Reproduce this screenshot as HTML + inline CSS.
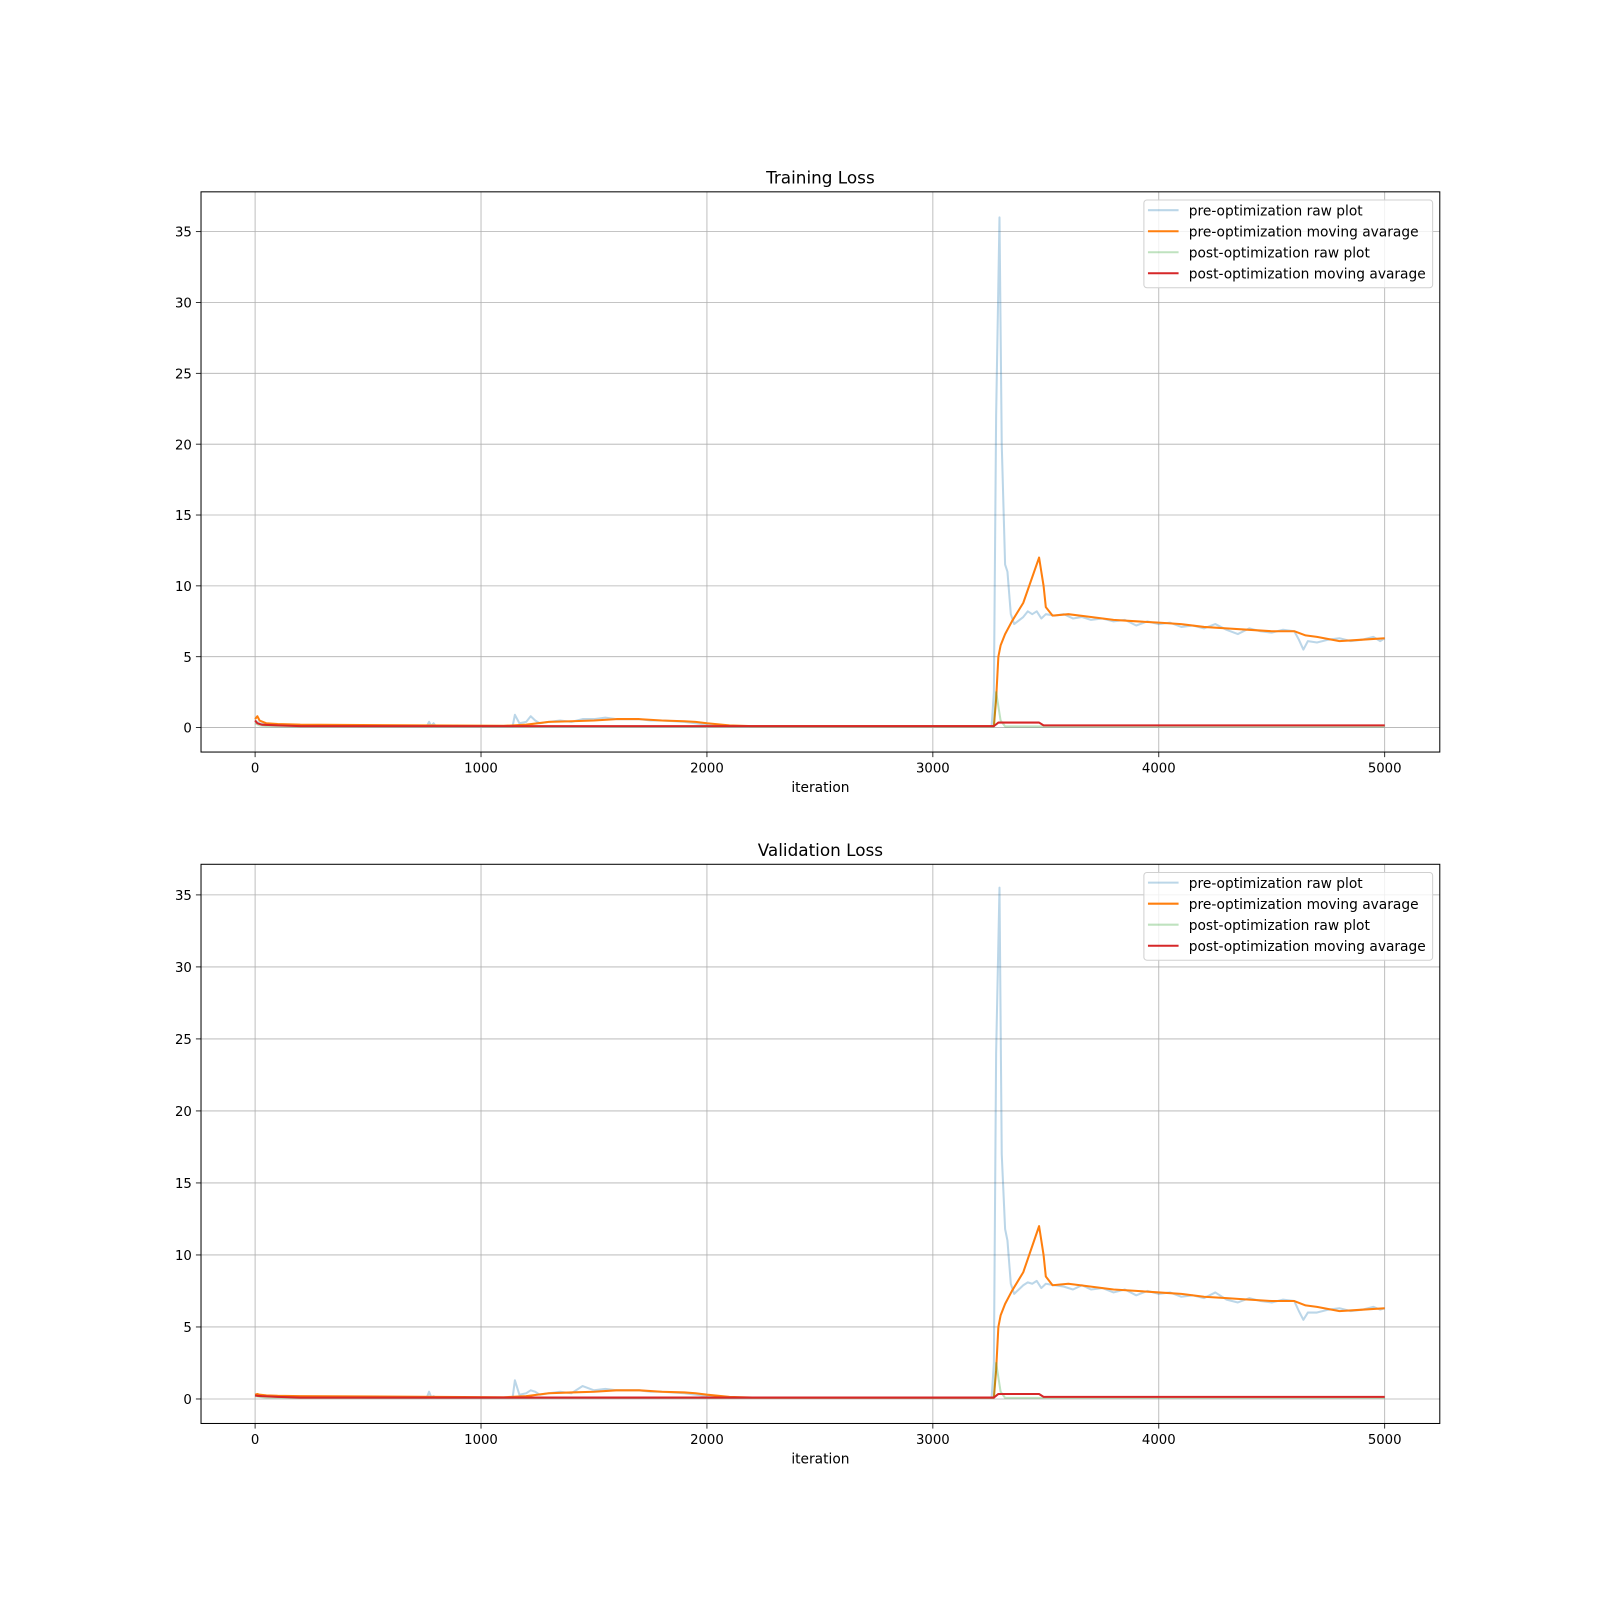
<!DOCTYPE html>
<html><head><meta charset="utf-8"><style>
body{margin:0;background:#fff;}
svg{display:block;font-family:"DejaVu Sans","Liberation Sans",sans-serif;}
</style></head><body>
<svg id="fig" width="1600" height="1600" viewBox="0 0 1568 1568"></svg>
<script>
// ---- data (iteration, value) ----
const rawPreX = [0,20,50,100,200,300,400,500,600,700,760,770,780,790,800,900,1000,1100,1140,1150,1170,1200,1220,1240,1260,1300,1350,1400,1450,1500,1550,1600,1650,1700,1750,1800,1900,2000,2100,2500,3000,3260,3270,3280,3295,3305,3320,3330,3345,3360,3400,3420,3440,3460,3480,3500,3540,3580,3620,3660,3700,3750,3800,3850,3900,3950,4000,4050,4100,4150,4200,4250,4300,4350,4400,4450,4500,4550,4600,4620,4640,4660,4700,4750,4800,4850,4900,4950,4980,5000];
const rawPreTrain = [0.5,0.3,0.2,0.15,0.12,0.12,0.12,0.1,0.1,0.1,0.1,0.4,0.1,0.3,0.1,0.1,0.1,0.1,0.1,0.9,0.3,0.4,0.8,0.5,0.3,0.4,0.5,0.4,0.6,0.6,0.7,0.6,0.6,0.6,0.5,0.5,0.4,0.2,0.1,0.1,0.1,0.1,2.5,22,36,20,11.5,11,8,7.3,7.8,8.2,8.0,8.2,7.7,8.0,7.9,8.0,7.7,7.8,7.6,7.7,7.5,7.6,7.2,7.5,7.3,7.4,7.1,7.2,7.0,7.3,6.9,6.6,7.0,6.8,6.7,6.9,6.8,6.2,5.5,6.1,6.0,6.2,6.3,6.1,6.2,6.4,6.1,6.3];
const rawPreVal = [0.3,0.2,0.2,0.15,0.12,0.12,0.12,0.1,0.1,0.1,0.1,0.5,0.1,0.2,0.1,0.1,0.1,0.1,0.1,1.3,0.3,0.4,0.6,0.5,0.3,0.4,0.5,0.4,0.9,0.6,0.7,0.6,0.6,0.6,0.5,0.5,0.4,0.2,0.1,0.1,0.1,0.1,2.5,24,35.5,17,11.8,11,8,7.3,7.9,8.1,8.0,8.2,7.7,8.0,7.9,7.8,7.6,7.9,7.6,7.7,7.4,7.6,7.2,7.5,7.3,7.4,7.1,7.2,7.0,7.4,6.9,6.7,7.0,6.8,6.7,6.9,6.8,6.1,5.5,6.0,6.0,6.2,6.3,6.1,6.2,6.4,6.2,6.3];
const maPreX = [0,10,20,50,100,200,1100,1200,1300,1400,1500,1600,1700,1800,1900,1950,2000,2100,2200,3270,3280,3290,3300,3320,3350,3400,3470,3480,3490,3500,3530,3600,3700,3800,3900,4000,4100,4200,4300,4400,4500,4600,4650,4700,4800,4900,5000];
const maPreTrain = [0.6,0.8,0.5,0.3,0.25,0.2,0.12,0.2,0.4,0.45,0.5,0.6,0.6,0.5,0.45,0.4,0.3,0.15,0.1,0.1,2,5,5.8,6.6,7.5,8.8,12,11,10,8.5,7.9,8.0,7.8,7.6,7.5,7.4,7.3,7.1,7.0,6.9,6.8,6.8,6.5,6.4,6.1,6.2,6.3];
const maPreVal = [0.3,0.35,0.3,0.25,0.22,0.2,0.12,0.2,0.4,0.45,0.5,0.6,0.6,0.5,0.45,0.4,0.3,0.15,0.1,0.1,2,5,5.8,6.6,7.5,8.8,12,11,10,8.5,7.9,8.0,7.8,7.6,7.5,7.4,7.3,7.1,7.0,6.9,6.8,6.8,6.5,6.4,6.1,6.2,6.3];
const rawPostX = [0,20,50,200,3270,3280,3300,3320,5000];
const rawPostTrain = [0.3,0.15,0.1,0.08,0.08,2.5,0.5,0.08,0.08];
const rawPostVal = [0.2,0.15,0.1,0.08,0.08,2.5,0.5,0.08,0.08];
const maPostX = [0,10,30,100,200,3270,3290,3470,3490,5000];
const maPostTrain = [0.5,0.3,0.2,0.15,0.1,0.1,0.35,0.35,0.15,0.15];
const maPostVal = [0.25,0.22,0.2,0.15,0.1,0.1,0.35,0.35,0.15,0.15];
const xTicks = [0,1000,2000,3000,4000,5000];
const yTicks = [0,5,10,15,20,25,30,35];
const legendLabels = ["pre-optimization raw plot","pre-optimization moving avarage","post-optimization raw plot","post-optimization moving avarage"];

const NS="http://www.w3.org/2000/svg";
const svg=document.getElementById('fig');
function mk(tag,attrs,parent){const e=document.createElementNS(NS,tag);for(const k in attrs)e.setAttribute(k,attrs[k]);(parent||svg).appendChild(e);return e;}

function panel(name,title,top,bottom,yZero,y35,series){
  const L=197,R=1411;
  const g=mk('g',{});
  
  
  const xs=i=>250+i*(1357-250)/5000;
  const ys=v=>yZero+v*(y35-yZero)/35;
  xTicks.forEach(t=>{
    const l=mk('line',{x1:xs(t),x2:xs(t),y1:top,y2:bottom,stroke:'#b0b0b0','stroke-width':0.8},g);
    
    mk('line',{x1:xs(t),x2:xs(t),y1:bottom,y2:bottom+5,stroke:'#000','stroke-width':0.8},g);
    const tx=mk('text',{x:xs(t),y:bottom+20,'text-anchor':'middle','font-size':13},g);tx.textContent=t;
    
  });
  yTicks.forEach(t=>{
    const l=mk('line',{x1:L,x2:R,y1:ys(t),y2:ys(t),stroke:'#b0b0b0','stroke-width':0.8},g);
    
    mk('line',{x1:L-5,x2:L,y1:ys(t),y2:ys(t),stroke:'#000','stroke-width':0.8},g);
    const tx=mk('text',{x:L-9,y:ys(t)+5,'text-anchor':'end','font-size':13},g);tx.textContent=t;
    
  });
  const cp=mk('clipPath',{id:'c'+name},g);mk('rect',{x:L,y:top,width:R-L,height:bottom-top},cp);
  series.forEach(s=>{
    const d=s.x.map((v,i)=>(i?'L':'M')+xs(v).toFixed(1)+','+ys(s.y[i]).toFixed(1)).join('');
    const p=mk('path',{d:d,fill:'none',stroke:s.c,'stroke-width':s.w,'stroke-opacity':s.o,'clip-path':'url(#c'+name+')','stroke-linejoin':'round'},g);
    
  });
  const fr=mk('rect',{x:L,y:top,width:R-L,height:bottom-top,fill:'none',stroke:'#000','stroke-width':1},g);
  
  const tt=mk('text',{x:(L+R)/2,y:top-8,'text-anchor':'middle','font-size':16.5},g);tt.textContent=title;
  
  const xl=mk('text',{x:(L+R)/2,y:bottom+39,'text-anchor':'middle','font-size':13.5},g);xl.textContent='iteration';
  
  const lg=mk('g',{},g);
  
  mk('rect',{x:1121,y:top+8,width:283,height:86,rx:3,fill:'#fff','fill-opacity':0.8,stroke:'#d0d0d0'},lg);
  series.forEach((s,i)=>{
    const y=top+18+i*20.6;
    const e=mk('g',{},lg);
    
    mk('line',{x1:1125,x2:1155,y1:y,y2:y,stroke:s.c,'stroke-width':s.w,'stroke-opacity':s.o},e);
    const t=mk('text',{x:1165,y:y+5,'font-size':13.5},e);t.textContent=legendLabels[i];
  });
}
panel('training-loss-chart','Training Loss',188,737,713,227,[
 {x:rawPreX,y:rawPreTrain,c:'#1f77b4',o:0.3,w:2,n:'pre-raw-line'},
 {x:maPreX,y:maPreTrain,c:'#ff7f0e',o:1,w:2,n:'pre-moving-average-line'},
 {x:rawPostX,y:rawPostTrain,c:'#2ca02c',o:0.3,w:2,n:'post-raw-line'},
 {x:maPostX,y:maPostTrain,c:'#d62728',o:1,w:2,n:'post-moving-average-line'}]);
panel('validation-loss-chart','Validation Loss',847,1395,1371,877,[
 {x:rawPreX,y:rawPreVal,c:'#1f77b4',o:0.3,w:2,n:'pre-raw-line'},
 {x:maPreX,y:maPreVal,c:'#ff7f0e',o:1,w:2,n:'pre-moving-average-line'},
 {x:rawPostX,y:rawPostVal,c:'#2ca02c',o:0.3,w:2,n:'post-raw-line'},
 {x:maPostX,y:maPostVal,c:'#d62728',o:1,w:2,n:'post-moving-average-line'}]);
</script>
</body></html>
